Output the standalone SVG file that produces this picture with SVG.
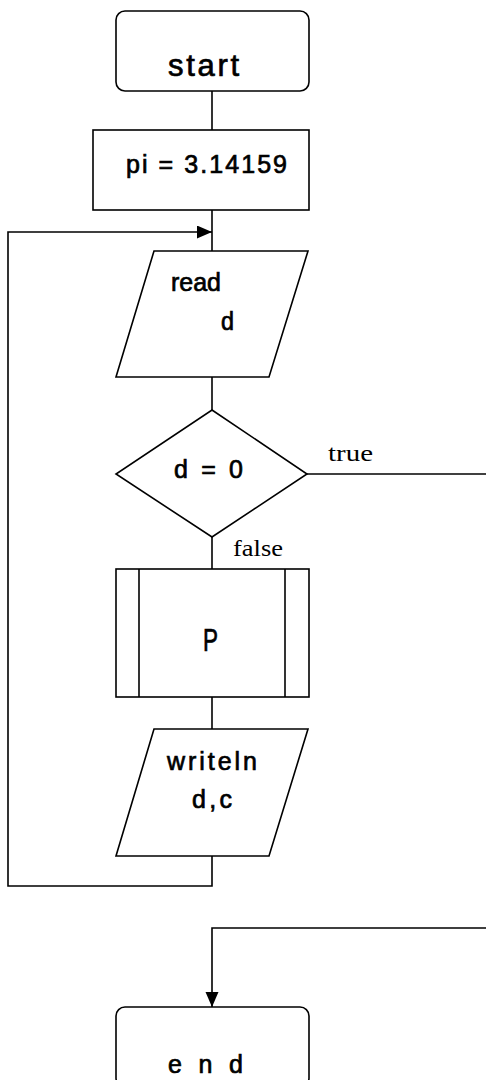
<svg xmlns="http://www.w3.org/2000/svg" width="486" height="1080" viewBox="0 0 486 1080">
  <style>
    .shape { fill: #ffffff; stroke: #000000; stroke-width: 1.6; }
    .edge { fill: none; stroke: #000000; stroke-width: 1.6; }
    .lbl { font-family: "Liberation Sans", Arial, sans-serif; font-size: 25px; fill: #000000; stroke: #000000; stroke-width: 0.7; }
    .big { font-size: 31px; }
    .tag { font-family: "Liberation Serif", "Times New Roman", serif; font-size: 23px; fill: #000000; }
  </style>
  <defs>
    <marker id="arrow" markerUnits="userSpaceOnUse" markerWidth="16" markerHeight="14" refX="15" refY="6.5" orient="auto">
      <path d="M0,0 L15,6.5 L0,13 Z" fill="#000000"/>
    </marker>
  </defs>

  <!-- connectors -->
  <g id="connectors">
    <line class="edge" x1="212" y1="91" x2="212" y2="130"/>
    <line class="edge" x1="212" y1="210" x2="212" y2="251"/>
    <line class="edge" x1="212" y1="377" x2="212" y2="410"/>
    <line class="edge" x1="212" y1="537" x2="212" y2="569"/>
    <line class="edge" x1="212" y1="697" x2="212" y2="729"/>
    <!-- loop back from writeln to read -->
    <polyline class="edge" points="212,856 212,886 8,886 8,232 212,232" marker-end="url(#arrow)"/>
    <!-- true branch out to the right -->
    <line class="edge" x1="307" y1="474" x2="486" y2="474"/>
    <!-- return into end -->
    <polyline class="edge" points="486,928 212,928 212,1007" marker-end="url(#arrow)"/>
    <text class="tag" x="328" y="461" textLength="45" lengthAdjust="spacingAndGlyphs">true</text>
    <text class="tag" x="233" y="556" textLength="50" lengthAdjust="spacingAndGlyphs">false</text>
  </g>

  <g id="start">
    <rect class="shape" x="116" y="11" width="193" height="80" rx="9"/>
    <text class="lbl big" x="168" y="76" textLength="71" lengthAdjust="spacing">start</text>
  </g>

  <g id="init">
    <rect class="shape" x="93" y="130" width="216" height="80"/>
    <text class="lbl" x="126" y="173" textLength="161" lengthAdjust="spacing">pi = 3.14159</text>
  </g>

  <g id="read">
    <polygon class="shape" points="154,251 308,251 269,377 116,377"/>
    <text class="lbl" x="171" y="291" textLength="50" lengthAdjust="spacingAndGlyphs">read</text>
    <text class="lbl" x="221" y="330" font-size="27" textLength="13" lengthAdjust="spacingAndGlyphs">d</text>
  </g>

  <g id="test">
    <polygon class="shape" points="212,410 307,474 212,537 116,474"/>
    <text class="lbl" x="174" y="478" font-size="24" textLength="69" lengthAdjust="spacing">d = 0</text>
  </g>

  <g id="proc">
    <rect class="shape" x="116" y="569" width="193" height="128"/>
    <line class="edge" x1="139" y1="569" x2="139" y2="697"/>
    <line class="edge" x1="285" y1="569" x2="285" y2="697"/>
    <text class="lbl big" x="203" y="651" textLength="15" lengthAdjust="spacingAndGlyphs">P</text>
  </g>

  <g id="output">
    <polygon class="shape" points="154,729 308,729 269,856 116,856"/>
    <text class="lbl" x="167" y="770" textLength="90" lengthAdjust="spacing">writeln</text>
    <text class="lbl" x="192" y="808" font-size="23" textLength="40" lengthAdjust="spacing">d,c</text>
  </g>

  <g id="end">
    <rect class="shape" x="116" y="1007" width="193" height="80" rx="9"/>
    <text class="lbl" x="168" y="1073" font-size="30" textLength="75" lengthAdjust="spacing">end</text>
  </g>
</svg>
